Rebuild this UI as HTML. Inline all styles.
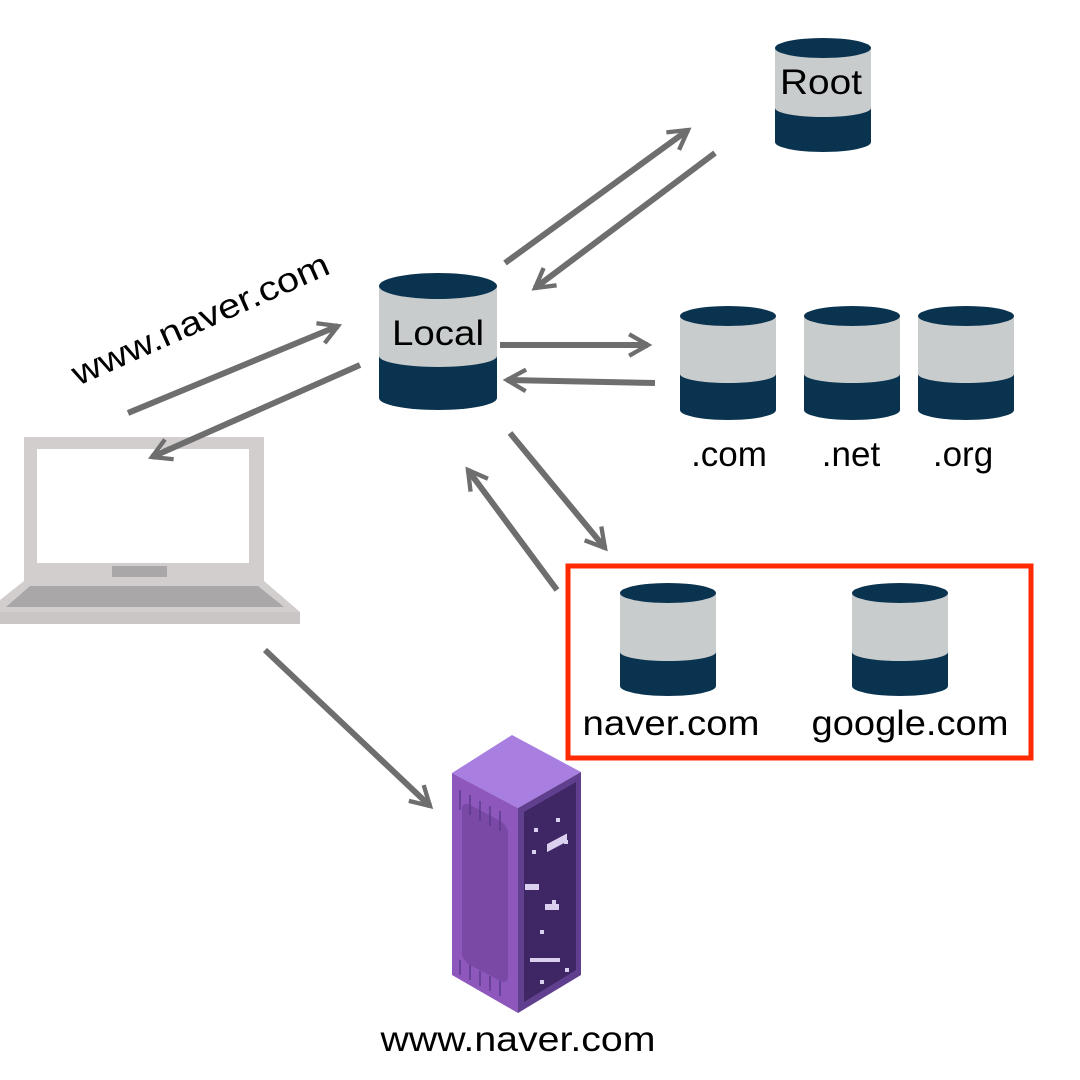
<!DOCTYPE html>
<html><head><meta charset="utf-8"><style>html,body{margin:0;padding:0;background:#fff}svg{display:block}text{font-family:"Liberation Sans",sans-serif;fill:#000}</style></head>
<body>
<svg width="1080" height="1080" viewBox="0 0 1080 1080" xmlns="http://www.w3.org/2000/svg">
<defs>
<marker id="ah" viewBox="0 0 10 10" refX="8" refY="5" markerWidth="4.5" markerHeight="4.5" orient="auto" markerUnits="strokeWidth">
<path d="M1,1 L8,5 L1,9" fill="none" stroke="#6e6e6e" stroke-width="1.6"/>
</marker>
</defs>
<!-- laptop -->
<rect x="24" y="437" width="240" height="144" fill="#d1cecd"/>
<rect x="37" y="449" width="212" height="114" fill="#fff"/>
<rect x="112" y="566" width="55" height="11" fill="#a9a7a7"/>
<polygon points="24,581 264,581 300,612 0,612 0,600" fill="#d1cecd"/>
<polygon points="30,586 258,586 284,607 6,607" fill="#a9a7a7"/>
<rect x="0" y="612" width="300" height="12" fill="#c9c6c5"/>
<g fill="none" stroke="#6e6e6e" stroke-width="6" marker-end="url(#ah)">
<line x1="505" y1="263" x2="688" y2="130"/>
<line x1="715" y1="153" x2="535" y2="288"/>
<line x1="500" y1="345" x2="648" y2="345"/>
<line x1="655" y1="383" x2="507" y2="380"/>
<line x1="510" y1="433" x2="605" y2="548"/>
<line x1="557" y1="590" x2="468" y2="470"/>
<line x1="128" y1="413" x2="338" y2="326"/>
<line x1="360" y1="365" x2="152" y2="457"/>
<line x1="265" y1="650" x2="430" y2="806"/>
</g>
<!-- cylinders -->
<g>
<rect x="775" y="108" width="96" height="34" fill="#0a3350"/><ellipse cx="823" cy="142" rx="48" ry="10" fill="#0a3350"/>
<rect x="775" y="48" width="96" height="60" fill="#c8cccd"/><ellipse cx="823" cy="108" rx="48" ry="9" fill="#c8cccd"/>
<ellipse cx="823" cy="48" rx="48" ry="10" fill="#0a3350"/>
<rect x="379" y="356" width="118" height="42" fill="#0a3350"/><ellipse cx="438" cy="398" rx="59" ry="12" fill="#0a3350"/>
<rect x="379" y="286" width="118" height="70" fill="#c8cccd"/><ellipse cx="438" cy="356" rx="59" ry="11" fill="#c8cccd"/>
<ellipse cx="438" cy="286" rx="59" ry="13" fill="#0a3350"/>
<rect x="680" y="374" width="96" height="36" fill="#0a3350"/><ellipse cx="728" cy="410" rx="48" ry="10" fill="#0a3350"/>
<rect x="680" y="316" width="96" height="58" fill="#c8cccd"/><ellipse cx="728" cy="374" rx="48" ry="9" fill="#c8cccd"/>
<ellipse cx="728" cy="316" rx="48" ry="10" fill="#0a3350"/>
<rect x="804" y="374" width="96" height="36" fill="#0a3350"/><ellipse cx="852" cy="410" rx="48" ry="10" fill="#0a3350"/>
<rect x="804" y="316" width="96" height="58" fill="#c8cccd"/><ellipse cx="852" cy="374" rx="48" ry="9" fill="#c8cccd"/>
<ellipse cx="852" cy="316" rx="48" ry="10" fill="#0a3350"/>
<rect x="918" y="374" width="96" height="36" fill="#0a3350"/><ellipse cx="966" cy="410" rx="48" ry="10" fill="#0a3350"/>
<rect x="918" y="316" width="96" height="58" fill="#c8cccd"/><ellipse cx="966" cy="374" rx="48" ry="9" fill="#c8cccd"/>
<ellipse cx="966" cy="316" rx="48" ry="10" fill="#0a3350"/>
<rect x="620" y="652" width="96" height="34" fill="#0a3350"/><ellipse cx="668" cy="686" rx="48" ry="10" fill="#0a3350"/>
<rect x="620" y="593" width="96" height="59" fill="#c8cccd"/><ellipse cx="668" cy="652" rx="48" ry="9" fill="#c8cccd"/>
<ellipse cx="668" cy="593" rx="48" ry="10" fill="#0a3350"/>
<rect x="852" y="652" width="96" height="34" fill="#0a3350"/><ellipse cx="900" cy="686" rx="48" ry="10" fill="#0a3350"/>
<rect x="852" y="593" width="96" height="59" fill="#c8cccd"/><ellipse cx="900" cy="652" rx="48" ry="9" fill="#c8cccd"/>
<ellipse cx="900" cy="593" rx="48" ry="10" fill="#0a3350"/>
</g>
<rect x="568" y="566" width="463" height="192" fill="none" stroke="#ff2a00" stroke-width="5"/>
<g font-size="35" text-anchor="middle">
<text x="821" y="94" textLength="82" lengthAdjust="spacingAndGlyphs">Root</text>
<text x="438" y="345" textLength="92" lengthAdjust="spacingAndGlyphs">Local</text>
<text x="729" y="466">.com</text>
<text x="851" y="466">.net</text>
<text x="963" y="466">.org</text>
<text x="671" y="735" textLength="177" lengthAdjust="spacingAndGlyphs">naver.com</text>
<text x="910" y="735" textLength="197" lengthAdjust="spacingAndGlyphs">google.com</text>
<text x="518" y="1051" textLength="275" lengthAdjust="spacingAndGlyphs">www.naver.com</text>
</g>
<text x="0" y="0" font-size="34" textLength="278" lengthAdjust="spacingAndGlyphs" transform="translate(78,386) rotate(-24)">www.naver.com</text>
<!-- server rack -->
<polygon points="452,773 512,735 581,772 518,808" fill="#a87fe0"/>
<polygon points="452,773 518,808 518,1013 452,975" fill="#8e57bc"/>
<rect x="462" y="808" width="46" height="160" rx="8" fill="#7a48a5" transform="skewY(28) translate(0,-253)"/>
<polygon points="518,808 581,772 581,975 518,1013" fill="#5f3f8e"/>
<polygon points="524,812 576,782 576,970 524,1002" fill="#3f2766"/>
<g fill="#dcd0f0">
<rect x="534" y="828" width="4" height="4"/><rect x="556" y="818" width="4" height="4"/><rect x="532" y="850" width="4" height="4"/><rect x="564" y="840" width="4" height="4"/>
<rect x="547" y="840" width="20" height="8" transform="skewY(-28) translate(0,295)"/>
<rect x="525" y="884" width="14" height="6"/><rect x="552" y="900" width="4" height="4"/><rect x="545" y="904" width="14" height="6"/>
<rect x="540" y="930" width="4" height="4"/><rect x="530" y="958" width="30" height="4"/><rect x="565" y="968" width="4" height="4"/><rect x="540" y="980" width="4" height="4"/>
</g>
<g stroke="#5b3a8c" stroke-width="1.5">
<line x1="460" y1="790" x2="460" y2="810"/><line x1="470" y1="795" x2="470" y2="815"/><line x1="480" y1="801" x2="480" y2="821"/><line x1="490" y1="806" x2="490" y2="826"/><line x1="500" y1="811" x2="500" y2="831"/>
<line x1="460" y1="960" x2="460" y2="975"/><line x1="470" y1="965" x2="470" y2="980"/><line x1="480" y1="971" x2="480" y2="986"/><line x1="490" y1="976" x2="490" y2="991"/><line x1="500" y1="981" x2="500" y2="996"/>
</g>
</svg>
</body></html>
